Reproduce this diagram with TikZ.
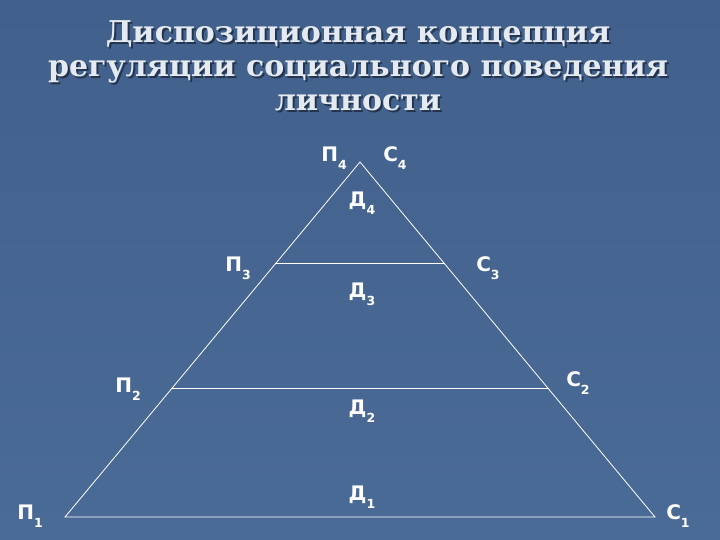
\documentclass[tikz,border=0pt]{standalone}
\usepackage{fontspec}
\setmainfont{DejaVu Serif}
\newfontfamily\labfont{DejaVu Sans}
\usetikzlibrary{calc}
\definecolor{bgtop}{HTML}{41608B}
\definecolor{bgmid}{HTML}{5878A2}
\definecolor{bgbot}{HTML}{4B6B97}
\definecolor{titletext}{HTML}{E4EAF0}
\definecolor{titleshade}{HTML}{24344E}
\newcommand{\sublab}[2]{#1\raisebox{-0.4em}{\fontsize{12.5}{12.5}\selectfont #2}}

\begin{document}
\begin{tikzpicture}[x=1pt,y=-1pt]
\tikzstyle{every node}+=[inner sep=0pt]
\tikzstyle{lab}=[text=white,font=\labfont\bfseries\fontsize{20}{20}\selectfont]
\tikzstyle{ttl}=[align=center,font=\bfseries\fontsize{30}{34}\selectfont]
\tikzstyle{edge}=[white,line width=0.8pt]
\shade[top color=bgtop,middle color=bgmid,bottom color=bgbot] (0,0) rectangle (720,540);
\node[ttl,text=titleshade] (titleshadow) at (360,68) {Диспозиционная концепция\\регуляции социального поведения\\личности};
\node[ttl,text=titletext] (title) at (358,66) {Диспозиционная концепция\\регуляции социального поведения\\личности};
\coordinate (apex) at (360,162);
\coordinate (left1) at (65,517);
\coordinate (right1) at (655,517);
\coordinate (left3) at ($(apex)!0.287!(left1)$);
\coordinate (right3) at ($(apex)!0.287!(right1)$);
\coordinate (left2) at ($(apex)!0.639!(left1)$);
\coordinate (right2) at ($(apex)!0.639!(right1)$);
\draw [edge] (left1) -- (apex) -- (right1) -- cycle;
\draw [edge] (left3) -- (right3);
\draw [edge] (left2) -- (right2);
\node[lab] (p4) at (334,158) {\sublab{П}{4}};
\node[lab] (s4) at (395,158) {\sublab{С}{4}};
\node[lab] (d4) at (362,203) {\sublab{Д}{4}};
\node[lab] (p3) at (238,268) {\sublab{П}{3}};
\node[lab] (s3) at (488,268) {\sublab{С}{3}};
\node[lab] (d3) at (362,294) {\sublab{Д}{3}};
\node[lab] (p2) at (128,389) {\sublab{П}{2}};
\node[lab] (s2) at (578,383) {\sublab{С}{2}};
\node[lab] (d2) at (362,411) {\sublab{Д}{2}};
\node[lab] (d1) at (362,497) {\sublab{Д}{1}};
\node[lab] (p1) at (30,516) {\sublab{П}{1}};
\node[lab] (s1) at (678,516) {\sublab{С}{1}};
\end{tikzpicture}
\end{document}
